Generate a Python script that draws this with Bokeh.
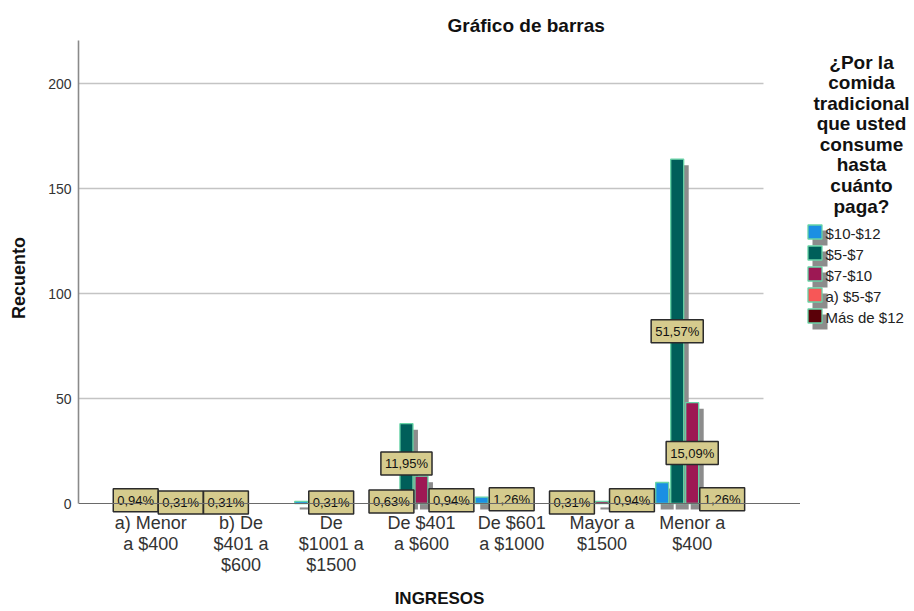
from bokeh.plotting import figure
from bokeh.layouts import row
from bokeh.models import ColumnDataSource, Range1d, FixedTicker, Span
from bokeh.core.properties import value
from bokeh.embed import file_html
from bokeh.resources import INLINE

# INGRESOS categories (x axis) and their wrapped tick labels
categories = ["a) Menor a $400", "b) De $401 a $600", "De $1001 a $1500",
              "De $401 a $600", "De $601 a $1000", "Mayor a $1500", "Menor a $400"]
tick_labels = ["a) Menor\na $400", "b) De\n$401 a\n$600", "De\n$1001 a\n$1500",
               "De $401\na $600", "De $601\na $1000", "Mayor a\n$1500", "Menor a\n$400"]

# answer categories of the question (legend)
series_names = ["$10-$12", "$5-$7", "$7-$10", "a) $5-$7", "Más de $12"]
series_colors = ["#1b8fe3", "#005f5a", "#9d1854", "#f75757", "#5a0008"]
legend_title = "¿Por la\ncomida\ntradicional\nque usted\nconsume\nhasta\ncuánto\npaga?"

# counts per INGRESOS category, one list per answer
counts_10_12 = [0, 0, 1, 2, 3, 1, 10]
counts_5_7 = [3, 1, 0, 38, 0, 0, 164]
counts_7_10 = [0, 0, 1, 13, 4, 1, 48]
counts_a_5_7 = [0, 0, 0, 0, 0, 0, 0]
counts_mas_12 = [1, 0, 0, 3, 0, 3, 4]

# bars that carry a percentage label (1 = shown)
shown_10_12 = [0, 0, 0, 1, 0, 1, 0]
shown_5_7 = [1, 1, 0, 1, 0, 0, 1]
shown_7_10 = [0, 0, 1, 0, 1, 0, 1]
shown_a_5_7 = [0, 0, 0, 0, 0, 0, 0]
shown_mas_12 = [1, 0, 0, 1, 0, 1, 1]

TOTAL = 318  # respondents
y_ticks = [0, 50, 100, 150, 200]

all_counts = [counts_10_12, counts_5_7, counts_7_10, counts_a_5_7, counts_mas_12]
all_shown = [shown_10_12, shown_5_7, shown_7_10, shown_a_5_7, shown_mas_12]

# geometry in data units (1 unit on x = one category, 1 unit on y = one case)
PX_X = 90.25
PX_Y = 2.1
BAR_W = 13 / PX_X
BAR_STEP = 15 / PX_X
SH_DX = 5 / PX_X
SH_DY = 6 / PX_Y
BAR_OUTLINE = "#67d4a6"
SHADOW = "#8c8c8c"
FRAME_TOP, FRAME_BOTTOM = 40, 515

p = figure(width=800, height=611, output_backend="svg", toolbar_location=None,
           x_range=Range1d(-0.8, 7.2), y_range=Range1d(-5.71, 220.5),
           min_border_left=78, min_border_right=0, min_border_top=FRAME_TOP,
           min_border_bottom=611 - FRAME_BOTTOM, background_fill_color="white",
           border_fill_color="white", outline_line_color=None)

p.title.text = "Gráfico de barras"
p.title.align = "left"
p.title.offset = 369
p.title.text_font = "Liberation Sans"
p.title.text_font_size = "19px"
p.title.text_font_style = "bold"
p.title.text_color = "#111111"
p.title.standoff = 9

p.xgrid.visible = False
p.ygrid.visible = False

# horizontal grid lines, stopping short of the right end of the baseline
grid_y = [t for t in y_ticks if t > 0]
p.segment(x0=[-0.8] * len(grid_y), x1=[6.79] * len(grid_y), y0=grid_y, y1=grid_y,
          line_color="#c4c4c4", line_width=1.6, level="underlay")
p.add_layout(Span(location=0, dimension="width", line_color="#6a6a6a", line_width=1.2))

label_x, label_y, label_txt = [], [], []
for s, (color, counts, shown) in enumerate(zip(series_colors, all_counts, all_shown)):
    xs = [i + (s - 2) * BAR_STEP for i, c in enumerate(counts) if c > 0]
    tops = [c for c in counts if c > 0]
    shadow = ColumnDataSource(dict(x=[x + SH_DX for x in xs],
                                   top=[t - SH_DY for t in tops],
                                   bottom=[-SH_DY] * len(tops)))
    p.vbar(x="x", top="top", bottom="bottom", width=BAR_W, source=shadow,
           fill_color=SHADOW, line_color=None)
    for i, (c, sh) in enumerate(zip(counts, shown)):
        if sh and c > 0:
            label_x.append(i + (s - 2) * BAR_STEP)
            label_y.append(c / 2)
            label_txt.append(f"{c / TOTAL * 100:.2f}".replace(".", ",") + "%")
    p.vbar(x=xs, top=tops, bottom=0, width=BAR_W,
           fill_color=color, line_color=BAR_OUTLINE, line_width=1.3)

# percentage labels in boxes at mid-height of their bars
p.text(x="x", y="y", text="text",
       source=ColumnDataSource(dict(x=label_x, y=label_y, text=label_txt)),
       text_align="center", text_baseline="middle",
       text_font=value("Liberation Sans"), text_font_size="13px",
       text_color="#111111", background_fill_color="#d5cb8d",
       border_line_color="#2b2b2b", border_line_width=1.5, padding=4)

# axes
p.yaxis.ticker = FixedTicker(ticks=y_ticks)
p.yaxis.bounds = (0, 220.5)
p.yaxis.axis_line_color = "#8a8a8a"
p.yaxis.axis_line_width = 1.6
p.yaxis.major_tick_line_color = None
p.yaxis.minor_tick_line_color = None
p.yaxis.major_tick_out = 0
p.yaxis.major_label_standoff = 7
p.yaxis.major_label_text_font = "Liberation Sans"
p.yaxis.major_label_text_font_size = "14px"
p.yaxis.major_label_text_color = "#333333"
p.yaxis.axis_label = "Recuento"
p.yaxis.axis_label_text_font = "Liberation Sans"
p.yaxis.axis_label_text_font_size = "18px"
p.yaxis.axis_label_text_font_style = "bold"
p.yaxis.axis_label_text_color = "#111111"
p.yaxis.axis_label_standoff = 16

p.xaxis.ticker = FixedTicker(ticks=list(range(len(categories))))
p.xaxis.major_label_overrides = {i: t for i, t in enumerate(tick_labels)}
p.xaxis.axis_line_color = None
p.xaxis.major_tick_line_color = None
p.xaxis.minor_tick_line_color = None
p.xaxis.major_tick_out = 0
p.xaxis.major_tick_in = 0
p.xaxis.major_label_standoff = -3
p.xaxis.major_label_text_font = "Liberation Sans"
p.xaxis.major_label_text_font_size = "18px"
p.xaxis.major_label_text_line_height = 1.05
p.xaxis.major_label_text_color = "#333333"
p.xaxis.axis_label = "INGRESOS"
p.xaxis.axis_label_text_font = "Liberation Sans"
p.xaxis.axis_label_text_font_size = "17px"
p.xaxis.axis_label_text_font_style = "bold"
p.xaxis.axis_label_text_color = "#111111"
p.xaxis.axis_label_standoff = 11

# legend panel on the right; its y scale runs in page pixels (top = FRAME_TOP)
lg = figure(width=114, height=611, output_backend="svg", toolbar_location=None,
            x_range=Range1d(0, 114), y_range=Range1d(FRAME_BOTTOM, FRAME_TOP),
            min_border_left=0, min_border_right=0, min_border_top=FRAME_TOP,
            min_border_bottom=611 - FRAME_BOTTOM, outline_line_color=None,
            background_fill_color="white", border_fill_color="white")
lg.axis.visible = False
lg.grid.visible = False

lg.text(x=[61], y=[51], text=[legend_title], text_align="center", text_baseline="top",
        text_font=value("Liberation Sans"), text_font_size="19px",
        text_font_style="bold", text_color="#111111", text_line_height=0.98)

ROW0, ROW_STEP, SW, SW_X = 224, 21, 15, 7
rows = [ROW0 + k * ROW_STEP for k in range(len(series_names))]
lg.rect(x=[SW_X + SW / 2 + 5] * len(rows), y=[r + SW / 2 + 6 for r in rows],
        width=SW, height=SW, fill_color=SHADOW, line_color=None)
lg.rect(x=[SW_X + SW / 2] * len(rows), y=[r + SW / 2 for r in rows],
        width=SW - 1, height=SW - 1, fill_color=series_colors,
        line_color=BAR_OUTLINE, line_width=1.3)
lg.text(x=[SW_X + SW + 3] * len(rows), y=[r + SW / 2 + 1 for r in rows],
        text=series_names, text_align="left", text_baseline="middle",
        text_font=value("Liberation Sans"), text_font_size="15px",
        text_color="#222222")

layout = row(p, lg, spacing=0)
open("out.html", "w").write(file_html(layout, INLINE))
